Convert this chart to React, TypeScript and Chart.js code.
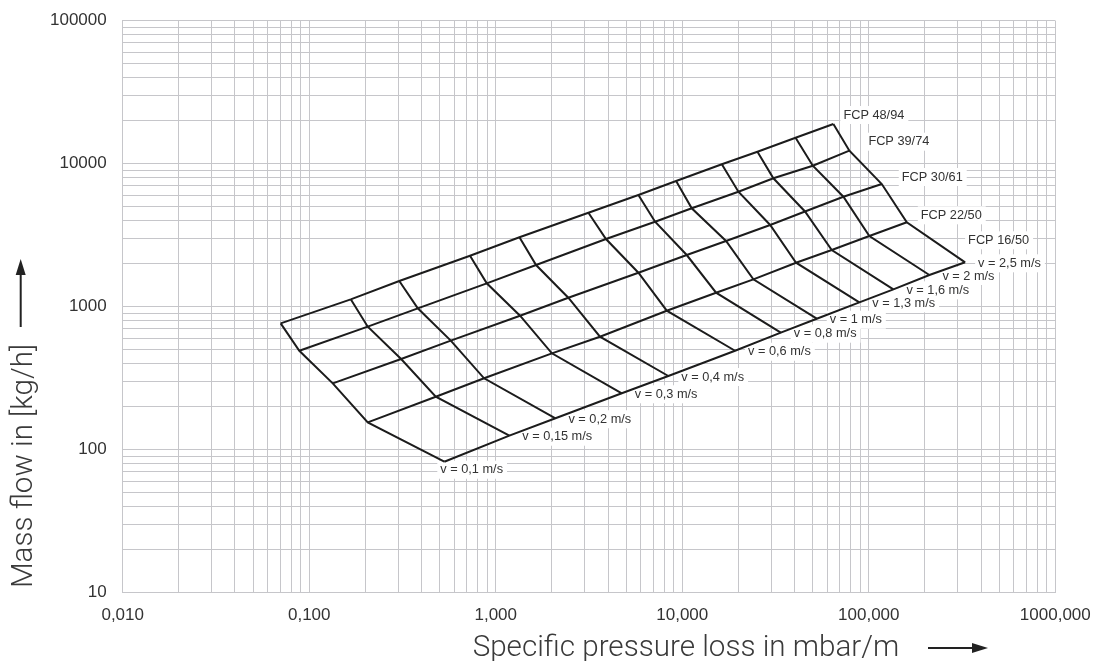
import React, { useEffect, useRef } from 'react';
import { Chart, registerables } from 'chart.js';

Chart.register(...registerables);

// ---- data ----
const velocities = [0.1, 0.15, 0.2, 0.3, 0.4, 0.6, 0.8, 1, 1.3, 1.6, 2, 2.5];
const velocityLabels = [
  'v = 0,1 m/s', 'v = 0,15 m/s', 'v = 0,2 m/s', 'v = 0,3 m/s', 'v = 0,4 m/s', 'v = 0,6 m/s',
  'v = 0,8 m/s', 'v = 1 m/s', 'v = 1,3 m/s', 'v = 1,6 m/s', 'v = 2 m/s', 'v = 2,5 m/s',
];
const pumpNames = ['FCP 48/94', 'FCP 39/74', 'FCP 30/61', 'FCP 22/50', 'FCP 16/50'];

// specific pressure loss (mbar/m) per velocity
const lossFCP4894 = [0.0703, 0.167, 0.304, 0.728, 1.34, 3.14, 5.82, 9.27, 16.3, 25.3, 40.5, 64.6];
const lossFCP3974 = [0.0885, 0.206, 0.382, 0.895, 1.645, 3.9, 7.15, 11.24, 20.0, 30.8, 50.1, 78.7];
const lossFCP3061 = [0.1337, 0.311, 0.574, 1.35, 2.45, 5.82, 10.57, 17.17, 29.6, 45.5, 73.1, 117.4];
const lossFCP2250 = [0.206, 0.477, 0.866, 2.0, 3.62, 8.26, 15.18, 24.06, 40.75, 63.3, 100.7, 159.9];
const lossFCP1650 = [0.53, 1.183, 2.09, 4.74, 8.42, 19.19, 33.75, 52.6, 89.0, 135.5, 211.3, 328.5];

// mass flow (kg/h) per velocity
const flowFCP4894 = [765, 1126, 1512, 2273, 3057, 4543, 6041, 7568, 9904, 12130, 15180, 18950];
const flowFCP3974 = [492, 725, 974, 1457, 1956, 2974, 3930, 4877, 6371, 7905, 9683, 12330];
const flowFCP3061 = [291, 431, 579, 865, 1156, 1729, 2298, 2880, 3727, 4632, 5877, 7211];
const flowFCP2250 = [155.4, 234.8, 315.7, 472, 617, 937.6, 1253, 1554, 2031, 2491, 3122, 3892];
const flowFCP1650 = [82.4, 125.3, 165.9, 248, 327.6, 492, 658, 824, 1073, 1323, 1666, 2044];

const xTickValues = [0.01, 0.1, 1, 10, 100, 1000];
const xTickLabels = ['0,010', '0,100', '1,000', '10,000', '100,000', '1000,000'];
const yTickValues = [10, 100, 1000, 10000, 100000];
const yTickLabels = ['10', '100', '1000', '10000', '100000'];

const xTitle = 'Specific pressure loss in mbar/m';
const yTitle = 'Mass flow in [kg/h]';

// ---- styling ----
const GRID = '#c6c6ca';
const LINE = '#1c1c1c';
const TEXT = '#333333';
const TITLE = '#3a3a3a';
const FONT = '"Liberation Sans", Arial, Helvetica, sans-serif';
const TITLE_FONT = 'Roboto, "Liberation Sans", Arial, sans-serif';

const pumpLoss = [lossFCP4894, lossFCP3974, lossFCP3061, lossFCP2250, lossFCP1650];
const pumpFlow = [flowFCP4894, flowFCP3974, flowFCP3061, flowFCP2250, flowFCP1650];

const pumpLabelOffsets = [[10, -9], [19, -9], [20, -7], [14, -7], [3, -22]];
const velocityLabelOffsets = velocities.map((_, j) => (j === 0 ? [-4, 8] : [13, 1]));

function gridValues(minExp: number, maxExp: number) {
  const out: number[] = [];
  for (let e = minExp; e < maxExp; e++) {
    for (let m = 1; m < 10; m++) out.push(Number((m * Math.pow(10, e)).toPrecision(6)));
  }
  out.push(Math.pow(10, maxExp));
  return out;
}

function labelFor(values: number[], labels: string[], v: number) {
  const i = values.findIndex((t) => Math.abs(Math.log10(t) - Math.log10(v)) < 1e-6);
  return i >= 0 ? labels[i] : '';
}

function collectLabels(chart: any) {
  const xs = chart.scales.x;
  const ys = chart.scales.y;
  const items: { text: string; x: number; y: number }[] = [];
  pumpNames.forEach((name, i) => {
    const last = pumpLoss[i].length - 1;
    const px = xs.getPixelForValue(pumpLoss[i][last]);
    const py = ys.getPixelForValue(pumpFlow[i][last]);
    items.push({ text: name, x: px + pumpLabelOffsets[i][0], y: py + pumpLabelOffsets[i][1] });
  });
  const b = pumpNames.length - 1;
  velocityLabels.forEach((t, j) => {
    const px = xs.getPixelForValue(pumpLoss[b][j]);
    const py = ys.getPixelForValue(pumpFlow[b][j]);
    items.push({ text: t, x: px + velocityLabelOffsets[j][0], y: py + velocityLabelOffsets[j][1] });
  });
  return items;
}

function fittedSize(ctx: any, text: string, targetWidth: number) {
  ctx.font = `300 30px ${TITLE_FONT}`;
  const w = ctx.measureText(text).width || targetWidth;
  return (30 * targetWidth) / w;
}

const labelPlugin = {
  id: 'meshLabels',
  beforeDatasetsDraw(chart: any) {
    const ctx = chart.ctx;
    ctx.save();
    ctx.font = `12.75px ${FONT}`;
    ctx.fillStyle = '#ffffff';
    collectLabels(chart).forEach((it) => {
      const w = ctx.measureText(it.text).width;
      ctx.fillRect(it.x - 3, it.y - 9, w + 7, 18);
    });
    ctx.restore();
  },
  afterDatasetsDraw(chart: any) {
    const ctx = chart.ctx;
    ctx.save();
    ctx.font = `12.75px ${FONT}`;
    ctx.fillStyle = TEXT;
    ctx.textAlign = 'left';
    ctx.textBaseline = 'middle';
    collectLabels(chart).forEach((it) => ctx.fillText(it.text, it.x, it.y));
    ctx.restore();
  },
  afterDraw(chart: any) {
    const ctx = chart.ctx;
    ctx.save();
    const size = fittedSize(ctx, yTitle, 244);
    ctx.font = `300 ${size.toFixed(2)}px ${TITLE_FONT}`;
    ctx.fillStyle = TITLE;
    ctx.textBaseline = 'alphabetic';
    ctx.textAlign = 'center';
    ctx.fillText(xTitle, 686, 656);
    ctx.save();
    ctx.translate(32, 466);
    ctx.rotate(-Math.PI / 2);
    ctx.fillText(yTitle, 0, 0);
    ctx.restore();
    // arrows
    ctx.fillStyle = '#222222';
    ctx.strokeStyle = '#222222';
    ctx.lineWidth = 2;
    ctx.beginPath();
    ctx.moveTo(20.7, 327);
    ctx.lineTo(20.7, 272);
    ctx.stroke();
    ctx.beginPath();
    ctx.moveTo(20.7, 259);
    ctx.lineTo(15.7, 275);
    ctx.lineTo(25.7, 275);
    ctx.closePath();
    ctx.fill();
    ctx.beginPath();
    ctx.moveTo(928, 648);
    ctx.lineTo(976, 648);
    ctx.stroke();
    ctx.beginPath();
    ctx.moveTo(988, 648);
    ctx.lineTo(972, 643);
    ctx.lineTo(972, 653);
    ctx.closePath();
    ctx.fill();
    ctx.restore();
  },
};

function clearPadding(s: any) {
  s.paddingTop = 0;
  s.paddingBottom = 0;
  s.paddingLeft = 0;
  s.paddingRight = 0;
}

export default function App() {
  const ref = useRef<HTMLCanvasElement | null>(null);
  useEffect(() => {
    if (!ref.current) return;
    const lineStyle = {
      showLine: true,
      pointRadius: 0,
      pointHoverRadius: 0,
      borderColor: LINE,
      backgroundColor: LINE,
      borderWidth: 2,
      tension: 0,
      fill: false,
      borderJoinStyle: 'miter' as const,
    };
    const pumpSets = pumpNames.map((name, i) => ({
      label: name,
      data: pumpLoss[i].map((x, j) => ({ x, y: pumpFlow[i][j] })),
      ...lineStyle,
    }));
    const velSets = velocityLabels.map((name, j) => ({
      label: name,
      data: pumpNames.map((_, i) => ({ x: pumpLoss[i][j], y: pumpFlow[i][j] })),
      ...lineStyle,
    }));
    const xGrid = gridValues(-2, 3);
    const yGrid = gridValues(1, 5);
    const chart = new Chart(ref.current, {
      type: 'scatter',
      data: { datasets: [...pumpSets, ...velSets] },
      options: {
        animation: false,
        responsive: false,
        events: [],
        layout: { padding: { left: 0, right: 38.7, top: 20.7, bottom: 0 } },
        plugins: { legend: { display: false }, tooltip: { enabled: false }, title: { display: false } },
        scales: {
          x: {
            type: 'logarithmic',
            position: 'bottom',
            min: 0.01,
            max: 1000,
            grid: { color: GRID, lineWidth: 1, drawTicks: false },
            border: { color: GRID, width: 1 },
            ticks: {
              autoSkip: false,
              maxRotation: 0,
              minRotation: 0,
              padding: 12.5,
              color: TEXT,
              font: { family: FONT, size: 17 },
              callback: (v: any) => labelFor(xTickValues, xTickLabels, Number(v)),
            },
            afterBuildTicks: (s: any) => {
              s.ticks = xGrid.map((v) => ({ value: v }));
            },
            afterFit: (s: any) => {
              s.height = 68.3;
              clearPadding(s);
            },
          },
          y: {
            type: 'logarithmic',
            position: 'left',
            min: 10,
            max: 100000,
            grid: { color: GRID, lineWidth: 1, drawTicks: false },
            border: { color: GRID, width: 1 },
            ticks: {
              autoSkip: false,
              padding: 16,
              color: TEXT,
              font: { family: FONT, size: 17 },
              callback: (v: any) => labelFor(yTickValues, yTickLabels, Number(v)),
            },
            afterBuildTicks: (s: any) => {
              s.ticks = yGrid.map((v) => ({ value: v }));
            },
            afterFit: (s: any) => {
              s.width = 122.7;
              clearPadding(s);
            },
          },
        },
      },
      plugins: [labelPlugin],
    });
    return () => chart.destroy();
  }, []);
  return (
    <div style={{ position: 'absolute', left: 0, top: 0, width: 1094, height: 661, background: '#ffffff' }}>
      <canvas ref={ref} width={1094} height={661} style={{ display: 'block' }} />
    </div>
  );
}
